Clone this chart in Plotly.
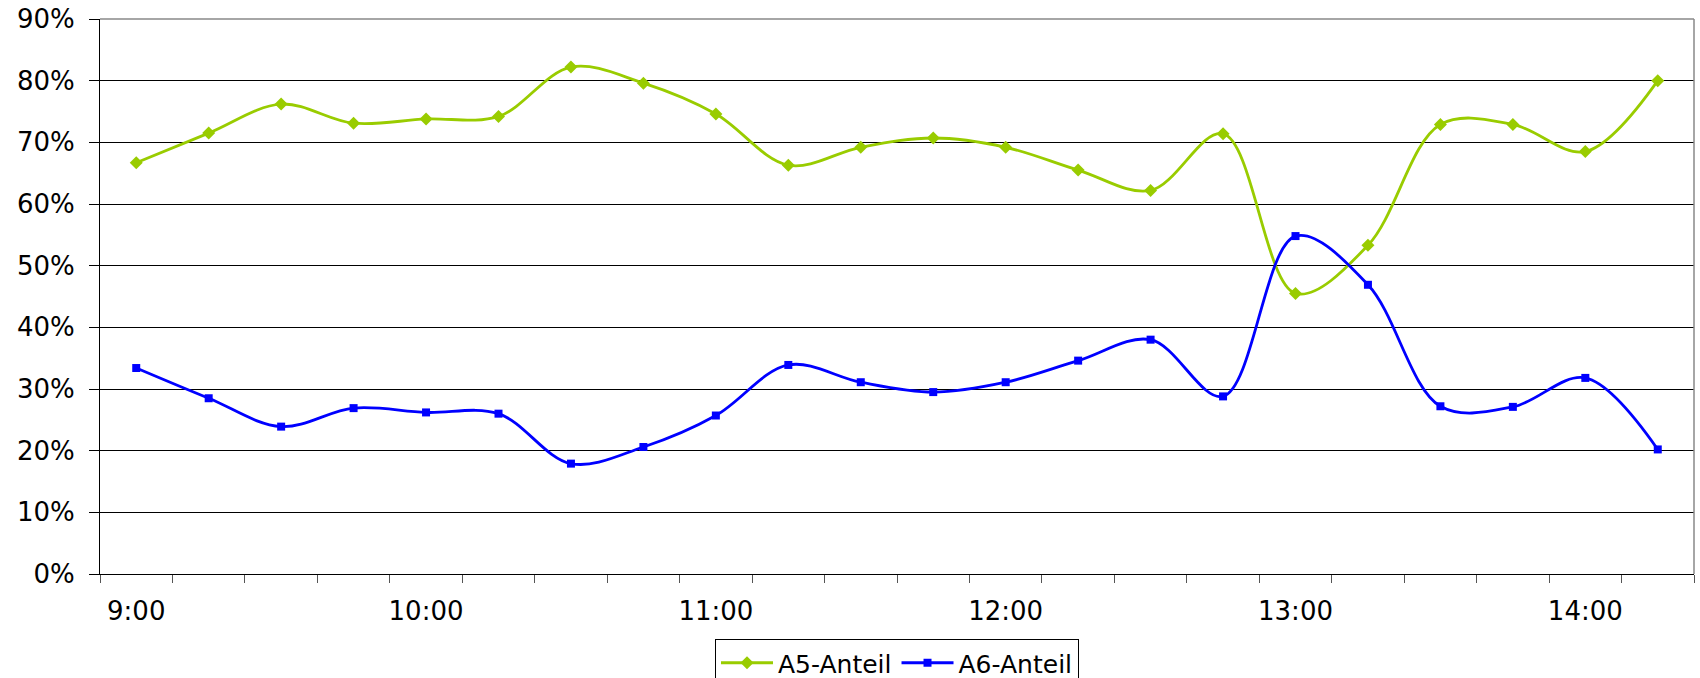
import plotly.graph_objects as go

times = ["9:00", "9:15", "9:30", "9:45", "10:00", "10:15", "10:30", "10:45",
         "11:00", "11:15", "11:30", "11:45", "12:00", "12:15", "12:30", "12:45",
         "13:00", "13:15", "13:30", "13:45", "14:00", "14:15"]
a5 = [66.7, 71.5, 76.2, 73.1, 73.8, 74.2, 82.2, 79.6, 74.6, 66.3, 69.2, 70.7,
      69.2, 65.5, 62.2, 71.4, 45.5, 53.3, 72.9, 72.9, 68.5, 80.0]
a6 = [33.4, 28.5, 23.9, 26.9, 26.2, 26.0, 17.9, 20.6, 25.7, 33.9, 31.1, 29.5,
      31.1, 34.6, 38.0, 28.8, 54.8, 46.9, 27.2, 27.1, 31.8, 20.2]
y_ticks = [0, 10, 20, 30, 40, 50, 60, 70, 80, 90]

x = list(range(len(times)))
label_idx = [i for i, t in enumerate(times) if t.endswith(":00")]

fig = go.Figure()
fig.add_trace(go.Scatter(
    x=x, y=a5, name="A5-Anteil", mode="lines+markers",
    line=dict(color="#99CC00", width=2.8, shape="spline", smoothing=1),
    marker=dict(symbol="diamond", size=10, color="#99CC00"),
))
fig.add_trace(go.Scatter(
    x=x, y=a6, name="A6-Anteil", mode="lines+markers",
    line=dict(color="#0000FF", width=2.8, shape="spline", smoothing=1),
    marker=dict(symbol="square", size=8, color="#0000FF"),
))

font = dict(family="DejaVu Sans, Verdana, sans-serif", size=26, color="black")
legend_font = dict(family="DejaVu Sans, Verdana, sans-serif", size=25, color="black")

fig.update_layout(
    width=1700, height=678,
    margin=dict(l=100, r=6, t=19, b=104, autoexpand=False),
    paper_bgcolor="white", plot_bgcolor="white",
    font=font,
    showlegend=True,
    legend=dict(orientation="h", x=0.5, xanchor="center",
                yref="container", y=1 - 639 / 678, yanchor="top",
                bordercolor="black", borderwidth=1, font=legend_font,
                itemwidth=52, tracegroupgap=0),
    xaxis=dict(
        range=[-0.5, len(times) - 0.5], automargin=False,
        tickmode="array", tickvals=label_idx, ticktext=[times[i] for i in label_idx],
        ticks="outside", ticklen=14, tickcolor="rgba(0,0,0,0)",
        ticklabeloverflow="allow",
        showgrid=False, zeroline=False,
        showline=True, linecolor="black", linewidth=1,
        minor=dict(tickmode="array", tickvals=[i - 0.5 for i in range(len(times) + 1)],
                   ticks="outside", ticklen=8, tickcolor="#555", tickwidth=1, showgrid=False),
        fixedrange=True,
    ),
    yaxis=dict(
        range=[0, 90], automargin=False, tickmode="array", tickvals=y_ticks,
        ticktext=[f"{v}%" for v in y_ticks],
        ticks="outside", ticklen=10, tickcolor="black",
        ticklabelstandoff=9, ticklabeloverflow="allow",
        showgrid=True, gridcolor="black", gridwidth=1,
        zeroline=False, showline=True, linecolor="black", linewidth=1,
        fixedrange=True,
    ),
    shapes=[
        dict(type="line", xref="paper", yref="paper", x0=0, x1=1, y0=1, y1=1,
             line=dict(color="#888888", width=1.5)),
        dict(type="line", xref="paper", yref="paper", x0=1, x1=1, y0=0, y1=1,
             line=dict(color="#888888", width=1.5)),
    ],
)

fig.write_html("out.html", config={"displayModeBar": False},
               post_script="document.body.style.margin='0';document.body.style.overflow='hidden';")
